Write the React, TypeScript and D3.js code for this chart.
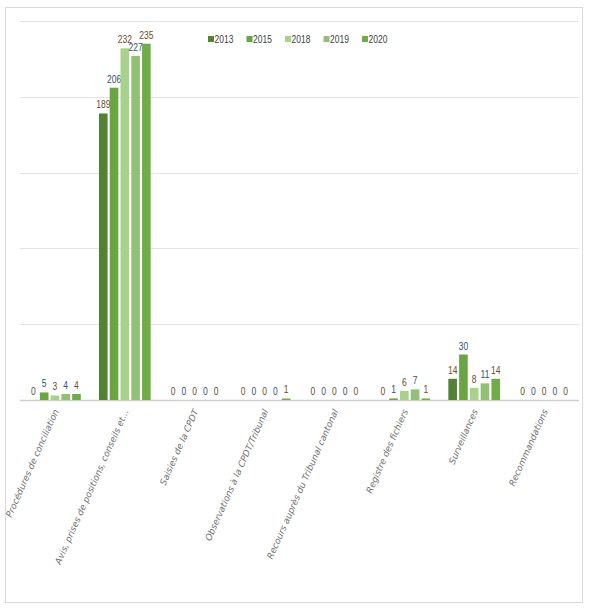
import React, { useEffect, useRef } from 'react';
import * as d3 from 'd3';

const categories = [
    'Procédures de conciliation',
    'Avis, prises de positions, conseils et...',
    'Saisies de la CPDT',
    'Observations à la CPDT/Tribunal',
    'Recours auprès du Tribunal cantonal',
    'Registre des fichiers',
    'Surveillances',
    'Recommandations',
];
const years = ['2013', '2015', '2018', '2019', '2020'];
const values2013 = [0, 189, 0, 0, 0, 0, 14, 0];
const values2015 = [5, 206, 0, 0, 0, 1, 30, 0];
const values2018 = [3, 232, 0, 0, 0, 6, 8, 0];
const values2019 = [4, 227, 0, 0, 0, 7, 11, 0];
const values2020 = [4, 235, 0, 1, 0, 1, 14, 0];
const yTicks = [0, 50, 100, 150, 200, 250];
const colors = ['#548235', '#6aa544', '#a9d18e', '#92c074', '#70ad47'];

const W = 592;
const H = 613;
const narrow = '"Liberation Sans", Arial, sans-serif';

const App: React.FC = () => {
    const svgRef = useRef<SVGSVGElement | null>(null);

    useEffect(() => {
        const series = [values2013, values2015, values2018, values2019, values2020];
        const svg = d3.select(svgRef.current);
        svg.selectAll('*').remove();

        const margin = { top: 21, left: 20, right: 13, bottom: 213 };
        const baseY = H - margin.bottom;

        // outer frame
        svg.append('rect')
            .attr('x', 5.5).attr('y', 7.5)
            .attr('width', 577).attr('height', 595)
            .attr('fill', '#fff')
            .attr('stroke', '#d9d9d9');

        const x0 = d3.scaleBand<string>()
            .domain(categories)
            .range([margin.left, W - margin.right])
            .paddingInner(0.26)
            .paddingOuter(0.13);

        const x1 = d3.scaleBand<string>()
            .domain(years)
            .range([0, x0.bandwidth()])
            .paddingInner(0.2);

        const y = d3.scaleLinear()
            .domain([0, 250])
            .range([baseY, margin.top]);

        // gridlines
        svg.append('g')
            .selectAll('line')
            .data(yTicks)
            .join('line')
            .attr('x1', margin.left)
            .attr('x2', W - margin.right)
            .attr('y1', d => Math.round(y(d)) + 0.5)
            .attr('y2', d => Math.round(y(d)) + 0.5)
            .attr('stroke', d => (d === 0 ? '#d0d0d0' : '#e3e3e3'))
            .attr('stroke-width', d => (d === 0 ? 1.5 : 1.2));

        // bars
        const groups = svg.append('g')
            .selectAll('g')
            .data(categories)
            .join('g')
            .attr('transform', d => `translate(${x0(d)},0)`);

        years.forEach((yr, si) => {
            groups.append('rect')
                .attr('x', x1(yr)!)
                .attr('width', x1.bandwidth())
                .attr('y', (_, i) => y(series[si][i]))
                .attr('height', (_, i) => baseY - y(series[si][i]))
                .attr('fill', colors[si]);

            groups.append('text')
                .attr('transform', (_, i) =>
                    `translate(${x1(yr)! + x1.bandwidth() / 2},${y(series[si][i]) - 5}) scale(0.74,1)`)
                .attr('text-anchor', 'middle')
                .attr('font-family', narrow)
                .attr('font-size', 11.5)
                .attr('fill', si % 2 === 0 ? '#6b4a2a' : '#2f4f78')
                .text((_, i) => series[si][i]);
        });

        // category labels
        svg.append('g')
            .selectAll('text')
            .data(categories)
            .join('text')
            .attr('transform', d => `translate(${x0(d)! + x0.bandwidth() / 2 + 4},${baseY + 11}) rotate(-66)`)
            .attr('text-anchor', 'end')
            .attr('font-family', '"DejaVu Sans", sans-serif')
            .attr('font-style', 'italic')
            .attr('font-size', 8.9)
            .attr('fill', '#6f6f6f')
            .text(d => d);

        // legend
        const legend = svg.append('g')
            .selectAll('g')
            .data(years)
            .join('g')
            .attr('transform', (_, i) => `translate(${208 + i * 38.5},36)`);
        legend.append('rect')
            .attr('width', 6).attr('height', 6)
            .attr('fill', (_, i) => colors[i]);
        legend.append('text')
            .attr('transform', 'translate(6.5,7) scale(0.74,1)')
            .attr('font-family', narrow)
            .attr('font-size', 11.5)
            .attr('fill', '#404040')
            .text(d => d);
    }, []);

    return (
        <svg ref={svgRef} width={W} height={H}
            style={{ position: 'absolute', left: 0, top: 0, background: '#fff' }} />
    );
};

export default App;
